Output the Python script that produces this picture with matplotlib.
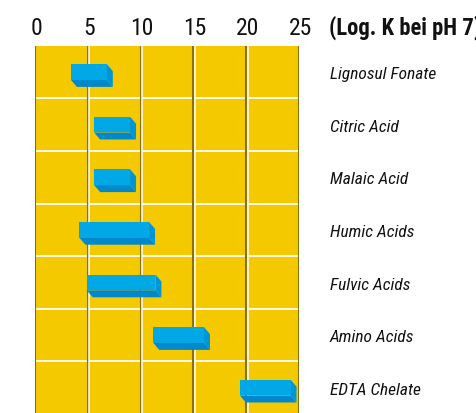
import matplotlib
matplotlib.use("Agg")
import matplotlib.pyplot as plt
from matplotlib.patches import Polygon
from matplotlib.transforms import ScaledTranslation
from matplotlib import font_manager

categories = ["Lignosul Fonate", "Citric Acid", "Malaic Acid", "Humic Acids",
              "Fulvic Acids", "Amino Acids", "EDTA Chelate"]
range_start = [3.4, 5.6, 5.6, 4.2, 4.9, 11.2, 19.4]
range_end = [6.8, 9.0, 9.0, 10.8, 11.4, 16.0, 24.2]
tick_values = [0, 5, 10, 15, 20, 25]
tick_labels = ["0", "5", "10", "15", "20", "25"]
unit_label = "(Log. K bei pH 7)"

names = {f.name for f in font_manager.fontManager.ttflist}
pref = ["Liberation Sans Narrow", "Arial Narrow", "Roboto Condensed", "Archivo Narrow",
        "PT Sans Narrow", "Open Sans Condensed", "Sofia Sans Semi Condensed", "Liberation Sans"]
narrow = next((p for p in pref if p in names), "DejaVu Sans")
plt.rcParams['font.family'] = [narrow, 'DejaVu Sans']

YELLOW = "#f4c900"
BROWN = "#8b7200"
FRONT = "#00a8e6"
BOTTOM = "#0088cc"
SIDE = "#0096d6"

W, H = 477, 414
fig = plt.figure(figsize=(W / 100, H / 100), dpi=100)
x0px, x1px = 35, 299
top_px = 46.7
row_px = 52.6
n = len(categories)
ax_h = n * row_px
ax = fig.add_axes([x0px / W, (H - top_px - ax_h) / H, (x1px - x0px) / W, ax_h / H])
ax.set_xlim(0, 25)
ax.set_ylim(n, 0)
ax.set_facecolor(YELLOW)
for s in ax.spines.values():
    s.set_visible(False)

px_per_unit = (x1px - x0px) / 25.0
for i in range(1, n):
    ax.axhline(i, color="white", lw=1.3, zorder=1)
for v in tick_values:
    ax.axvline(v, color=BROWN, lw=1.5, zorder=2)
    if 0 < v < 25:
        ax.axvline(v + 1.6 / px_per_unit, color="white", lw=1.1, zorder=2)

dx = 6.0 / px_per_unit
dy = 7.0 / row_px
hh = 0.15
label_x = (330 - x0px) / px_per_unit
base_off = 6.3 / row_px
for i, (a, b) in enumerate(zip(range_start, range_end)):
    c = i + 0.5
    yt, yb = c - hh, c + hh
    bottom = Polygon([(a, yb), (b, yb), (b + dx, yb + dy), (a + dx, yb + dy)],
                     closed=True, facecolor=BOTTOM, edgecolor="none", zorder=5)
    side = Polygon([(b, yt), (b + dx, yt + dy), (b + dx, yb + dy), (b, yb)],
                   closed=True, facecolor=SIDE, edgecolor="none", zorder=5)
    front = Polygon([(a, yt), (b, yt), (b, yb), (a, yb)],
                    closed=True, facecolor=FRONT, edgecolor="none", zorder=6)
    for p in (bottom, side, front):
        ax.add_patch(p)
    ax.text(label_x, c + base_off, categories[i], fontsize=12.5, style="italic",
            va="baseline", ha="left", clip_on=False, color="#111111")

ax.xaxis.tick_top()
ax.set_xticks(tick_values)
ax.set_xticklabels(tick_labels)
ax.tick_params(axis="x", length=0, pad=5, labelsize=17, colors="#111111")
ax.set_yticks([])
shift = ScaledTranslation(1.5 / 100, 0, fig.dpi_scale_trans)
for lab in ax.get_xticklabels():
    lab.set_transform(lab.get_transform() + shift)

fig.text(329 / W, 1 - 35 / H, unit_label, fontsize=16.3, fontweight="bold",
         ha="left", va="baseline", color="#111111")

fig.savefig("out.png", dpi=100)
